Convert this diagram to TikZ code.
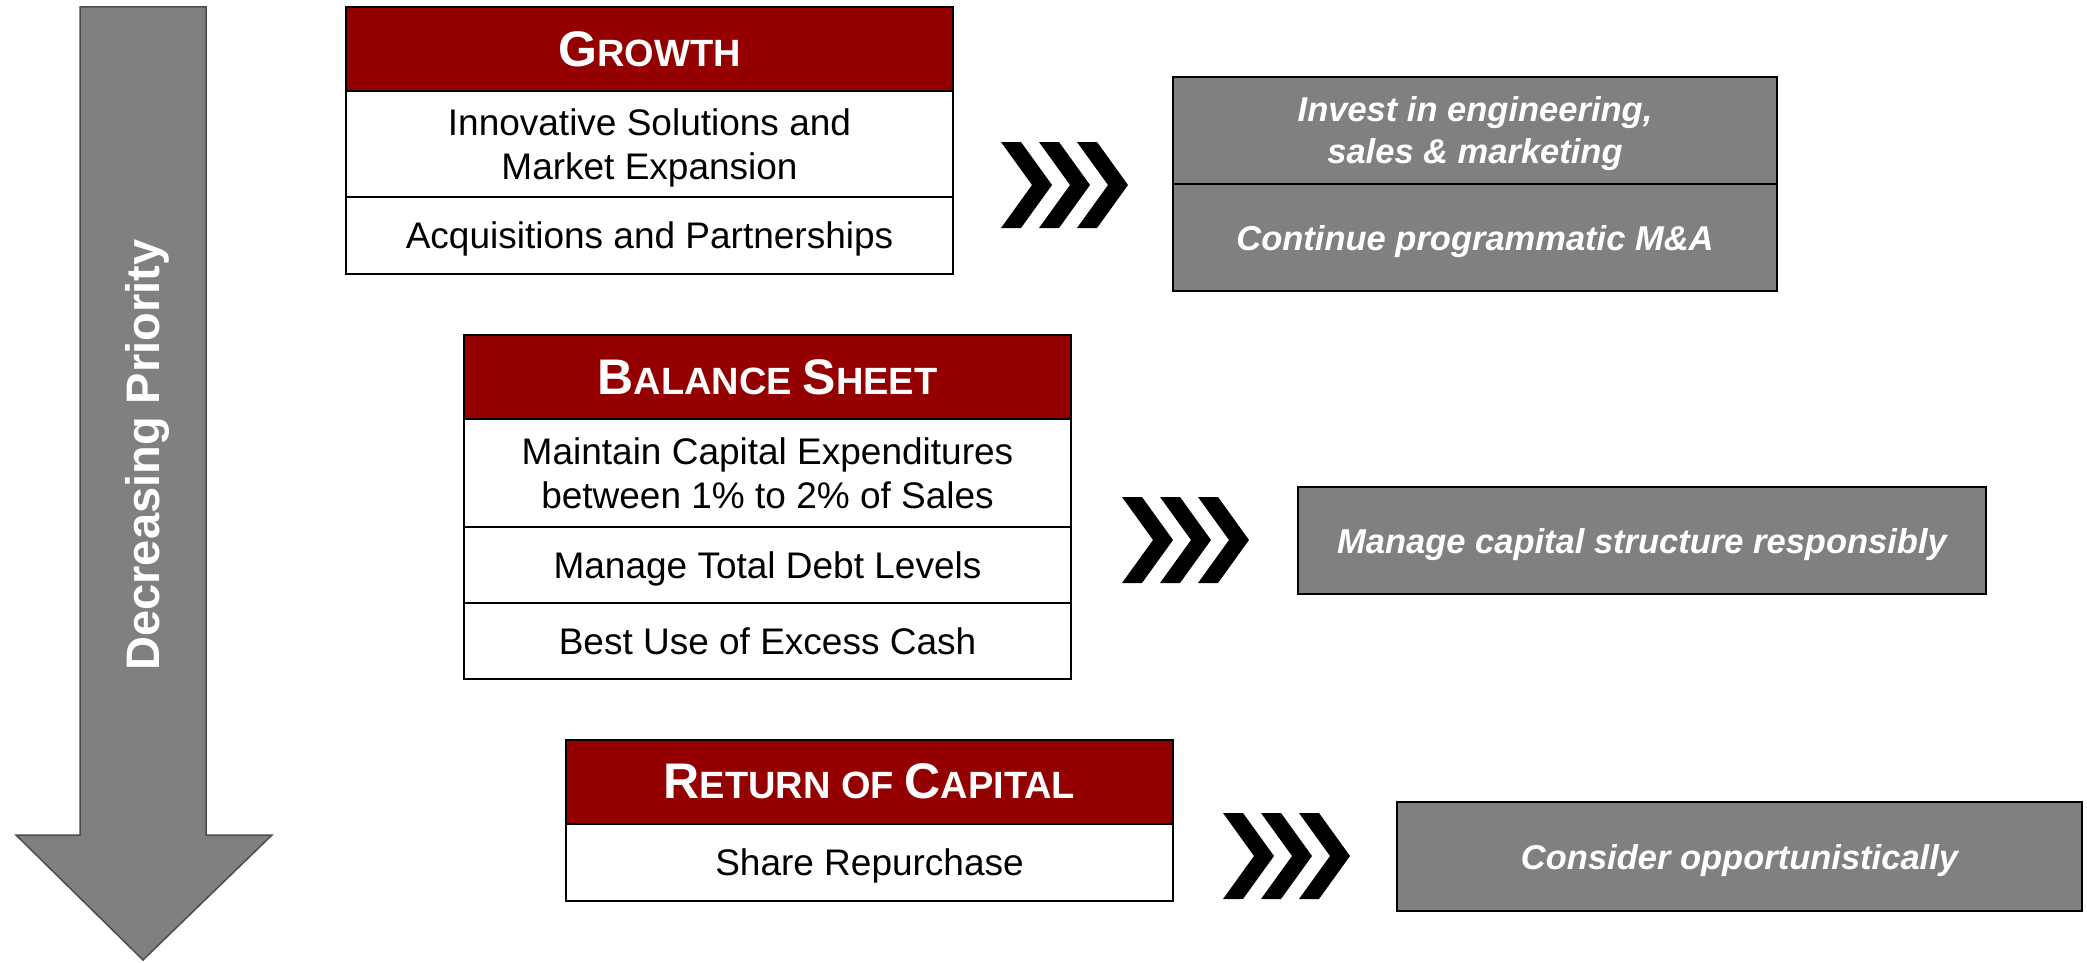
\documentclass[tikz,border=0pt]{standalone}
\usepackage{fontspec}
\setmainfont{Liberation Sans}
\usetikzlibrary{positioning}

\definecolor{hdrred}{RGB}{148,0,0}
\definecolor{boxgray}{RGB}{128,128,128}
\newcommand{\hcap}[1]{{\fontsize{50}{60}\selectfont #1}}

\begin{document}
\begin{tikzpicture}[x=1pt,y=-1pt,
    hdr/.style={draw, line width=2pt, fill=hdrred, text=white,
        font=\fontsize{38}{45}\selectfont\bfseries,
        minimum width=607pt, minimum height=84pt, inner sep=0pt, outer sep=0pt},
    cell/.style={draw, line width=2pt, fill=white, align=center,
        font=\fontsize{37}{44}\selectfont, text depth=0pt,
        minimum width=607pt, inner sep=0pt, outer sep=0pt},
    act/.style={draw, line width=2pt, fill=boxgray, text=white, align=center,
        font=\fontsize{34.5}{42}\selectfont\bfseries\itshape, text depth=0pt,
        inner sep=0pt, outer sep=0pt}]
    \useasboundingbox (0,0) rectangle (2087,963);
    %
    \draw[line width=1.5pt, draw=black!70, fill=boxgray]
        (80,7) -- (206,7) -- (206,835) -- (272,835) -- (143,960) -- (16,835) -- (80,835) -- cycle;
    \node[rotate=90, text=white, font=\fontsize{47}{56}\selectfont\bfseries] (prio) at (147,455) {Decreasing Priority};
    %
    \node[hdr] (growth) at (649.5,49) {\hcap{G}ROWTH};
    \node[cell, minimum height=106pt, below=0pt of growth] (innov) {Innovative Solutions and\\Market Expansion};
    \node[cell, minimum height=77pt, below=0pt of innov] (acq) {Acquisitions and Partnerships};
    %
    \node[hdr] (balance) at (767.5,377) {\hcap{B}ALANCE \hcap{S}HEET};
    \node[cell, minimum height=108pt, below=0pt of balance] (capex) {Maintain Capital Expenditures\\between 1\% to 2\% of Sales};
    \node[cell, minimum height=76pt, below=0pt of capex] (debt) {Manage Total Debt Levels};
    \node[cell, minimum height=76pt, below=0pt of debt] (cash) {Best Use of Excess Cash};
    %
    \node[hdr] (return) at (869.5,781.5) {\hcap{R}ETURN OF \hcap{C}APITAL};
    \node[cell, minimum height=77pt, below=0pt of return] (buyback) {Share Repurchase};
    %
    \node[act, minimum width=604pt, minimum height=107pt] (invest) at (1475,130.5) {Invest in engineering,\\sales \& marketing};
    \node[act, minimum width=604pt, minimum height=107pt, below=0pt of invest] (mna) {Continue programmatic M\&A};
    \node[act, minimum width=688pt, minimum height=107pt] (structure) at (1642,540.5) {Manage capital structure responsibly};
    \node[act, minimum width=685pt, minimum height=109pt] (consider) at (1739.5,856.5) {Consider opportunistically};
    %
    \foreach \cx/\cy in {1001/142, 1122/497, 1223/813}
        \foreach \k in {0,1,2}
            \fill ({\cx+38*\k},\cy) -- ++(20,0) -- ++(31,43) -- ++(-31,43) -- ++(-20,0) -- ++(31,-43) -- cycle;
\end{tikzpicture}
\end{document}
